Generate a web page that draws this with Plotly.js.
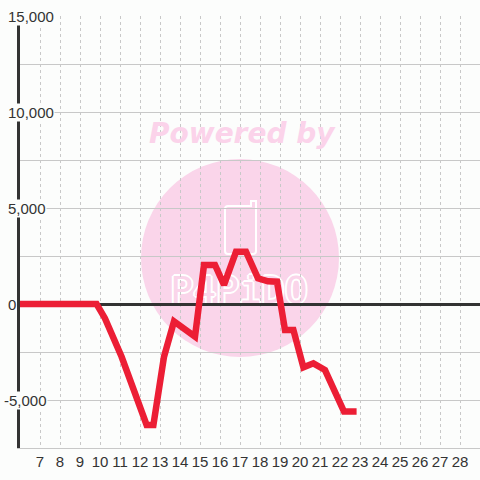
<!DOCTYPE html>
<html>
<head>
<meta charset="utf-8">
<script src="https://cdn.plot.ly/plotly-3.0.1.min.js"></script>
<style>html,body{margin:0;padding:0;background:#fcfdfc;}</style>
</head>
<body>
<div id="chart" style="width:480px;height:480px;"></div>
<script>
// ---- data ----
const days = [6, 9.83, 10.25, 11.08, 12.33, 12.67, 13.2, 13.7, 14.75, 15.2, 15.75, 16.2, 16.8, 17.3, 17.9, 18.4, 18.85, 19.25, 19.67, 20.17, 20.67, 21.25, 22.2, 22.83];
const balance = [0, 0, -750, -2750, -6300, -6300, -2750, -900, -1700, 2030, 2030, 1000, 2720, 2720, 1340, 1180, 1160, -1350, -1350, -3300, -3090, -3440, -5600, -5600];
const xTickVals = [7, 8, 9, 10, 11, 12, 13, 14, 15, 16, 17, 18, 19, 20, 21, 22, 23, 24, 25, 26, 27, 28];
const xTickText = xTickVals.map(String);
const yTickVals = [15000, 10000, 5000, 0, -5000];
const yTickText = ["15,000", "10,000", "5,000", "0", "-5,000"];
const watermarkTop = "Powered by";
const watermarkLogo = "P4PiDO";

// ---- layout helpers (pixel -> paper) ----
const BG = "#fcfdfc";
const TEXT = "#333333";
const GRID = "#c8c8c8";
const PINK = "#fad5ea";
const PX = p => (p - 20) / 460;
const PY = p => (448 - p) / 432;
const FONT = "Liberation Sans, Arial, sans-serif";

const trace = {
  x: days, y: balance, type: "scatter", mode: "lines",
  line: {color: "#ec1e35", width: 6.5},
  hoverinfo: "skip", showlegend: false
};

const yAnn = yTickVals.map((v, i) => ({
  xref: "paper", yref: "y", x: PX(7), y: v,
  xanchor: "left", yanchor: "middle",
  xshift: v < 0 ? -4 : 0,
  text: yTickText[i], showarrow: false,
  bgcolor: BG, borderpad: 0,
  font: {family: FONT, size: 15, color: TEXT}
}));

const shadow = "2px 0 0 #fff, -2px 0 0 #fff, 0 2px 0 #fff, 0 -2px 0 #fff, 1px 1px 0 #fff, -1px -1px 0 #fff, 1px -1px 0 #fff, -1px 1px 0 #fff";

const phonePath = [
  "M", PX(225), PY(209),
  "L", PX(225), PY(251),
  "Q", PX(225), PY(254), PX(228), PY(254),
  "L", PX(253), PY(254),
  "Q", PX(256), PY(254), PX(256), PY(251),
  "L", PX(256), PY(201),
  "L", PX(251), PY(201),
  "L", PX(251), PY(206),
  "L", PX(228), PY(206),
  "Q", PX(225), PY(206), PX(225), PY(209), "Z"
].join(" ");

const layout = {
  width: 480, height: 480,
  margin: {l: 20, r: 0, t: 16, b: 32, pad: 0},
  paper_bgcolor: BG, plot_bgcolor: BG,
  font: {family: FONT, size: 15, color: TEXT},
  xaxis: {
    range: [6, 29], tickmode: "array", tickvals: xTickVals, ticktext: xTickText,
    showgrid: true, gridcolor: GRID, gridwidth: 1, griddash: "3px,3px",
    zeroline: false, showline: true, linecolor: GRID, linewidth: 1,
    ticks: "", tickfont: {family: FONT, size: 15, color: TEXT}, fixedrange: true
  },
  yaxis: {
    range: [-7500, 15000], tick0: 0, dtick: 2500,
    showgrid: true, gridcolor: GRID, gridwidth: 1,
    zeroline: true, zerolinecolor: "#333333", zerolinewidth: 3,
    showline: true, linecolor: "#333333", linewidth: 3,
    showticklabels: false, ticks: "", layer: "below traces", fixedrange: true
  },
  shapes: [
    {type: "circle", xref: "paper", yref: "paper", x0: PX(141), x1: PX(339), y0: PY(357), y1: PY(159),
     fillcolor: PINK, line: {width: 0}, layer: "below"},
    {type: "path", xref: "paper", yref: "paper", path: phonePath,
     line: {color: "#ffffff", width: 2}, fillcolor: "rgba(0,0,0,0)", layer: "below"},
    {type: "rect", xref: "paper", yref: "paper", x0: PX(170), x1: PX(308), y0: PY(306), y1: PY(268),
     line: {width: 0}, fillcolor: "rgba(0,0,0,0)", layer: "below",
     label: {text: watermarkLogo, textposition: "middle center",
             font: {family: "DejaVu Sans Mono", size: 38, color: PINK, shadow: shadow}}}
  ],
  annotations: [
    {xref: "paper", yref: "paper", x: PX(242), y: PY(133), xanchor: "center", yanchor: "middle",
     text: watermarkTop, showarrow: false,
     font: {family: "DejaVu Sans", size: 28, weight: "bold", style: "italic", color: "#fbd3ea"}}
  ].concat(yAnn)
};

Plotly.newPlot("chart", [trace], layout, {staticPlot: true, displayModeBar: false});
</script>
</body>
</html>
